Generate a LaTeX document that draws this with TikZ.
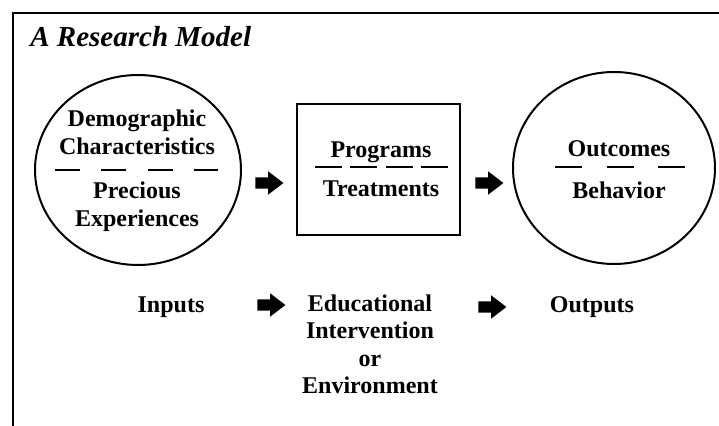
\documentclass[tikz,border=0pt]{standalone}
\usepackage{fontspec}
\setmainfont{Liberation Serif}
\usetikzlibrary{positioning, shapes.geometric, shapes.arrows}

\begin{document}
\begin{tikzpicture}[x=0.5pt, y=-0.5pt,
        outline/.style={line width=1pt},
        lbl/.style={font=\fontsize{12}{13.8}\selectfont\bfseries, inner sep=0pt, align=center},
        blockarrow/.style={single arrow, fill=black, inner xsep=0pt, inner ysep=2.6pt, anchor=tail,
            minimum height=14pt, single arrow head extend=3.1pt, single arrow tip angle=75}]
        \useasboundingbox (0,0) rectangle (719,426);

        % Frame and title
        \draw[outline] (725,13) -- (13,13) -- (13,432);
        \node[font=\fontsize{14.5}{17}\selectfont\bfseries\itshape, inner sep=0pt, anchor=base west] (title) at (30,47) {A Research Model};

        % Blocks
        \node[outline, draw, ellipse, minimum width=103pt, minimum height=95pt] (inputs) at (138,170) {};
        \node[outline, draw, rectangle, minimum width=81.5pt, minimum height=65.5pt] (program) at (378.5,169.5) {};
        \node[outline, draw, ellipse, minimum width=101pt, minimum height=96pt] (outcomes) at (614,168) {};

        % Texts in the blocks
        \node[lbl, anchor=south] (demog) at (137,155) {Demographic\\Characteristics};
        \node[lbl, anchor=north] (precious) at (137,181.5) {Precious\\Experiences};
        \draw[outline, dash pattern=on 12.5pt off 10.7pt] (55,170) -- (218,170);

        \node[lbl, anchor=base] (programs) at (381,158) {Programs};
        \node[lbl, anchor=north] (treatments) at (381,180) {Treatments};
        \draw[outline, dash pattern=on 13.5pt off 4.2pt] (315,167) -- (448,167);

        \node[lbl, anchor=base] (outc) at (619,157) {Outcomes};
        \node[lbl, anchor=north] (behavior) at (619,181.5) {Behavior};
        \draw[outline, dash pattern=on 13.5pt off 12.25pt] (555,167) -- (685,167);

        % Arrows
        \node[blockarrow] (arrA) at (255,183) {};
        \node[blockarrow] (arrB) at (475,183) {};
        \node[blockarrow] (arrC) at (257,305) {};
        \node[blockarrow] (arrD) at (478,307) {};

        % Bottom row
        \node[lbl, anchor=base] (inp) at (171,313) {Inputs};
        \node[lbl, anchor=north] (interv) at (370,294) {Educational\\Intervention\\or\\Environment};
        \node[lbl, anchor=base] (outp) at (592,313) {Outputs};
    \end{tikzpicture}
\end{document}
